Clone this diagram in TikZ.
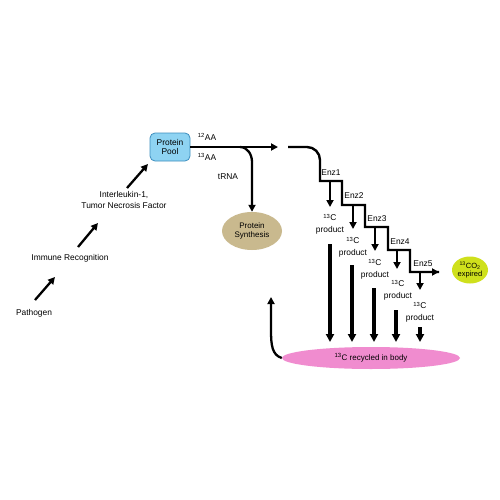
\documentclass[tikz,border=0pt]{standalone}
\usepackage{fontspec}
\setmainfont{Liberation Sans}
\usetikzlibrary{arrows.meta,shapes.geometric}
\definecolor{poolblue}{HTML}{8ED3F2}
\definecolor{pooledge}{HTML}{3E8EBE}
\definecolor{tan}{HTML}{C9B98E}
\definecolor{pinkish}{HTML}{F08CCF}
\definecolor{lime}{HTML}{CFE01C}
\tikzset{
  lbl/.style={font=\fontsize{8.4}{9.5}\selectfont, inner sep=0.5pt, align=center},
  two/.style={font=\fontsize{8.4}{11.5}\selectfont},
  arr/.style={line width=2.3pt, -{Triangle[length=7pt,width=7pt]}},
  bar/.style={line width=3.2pt, -{Triangle[length=8pt,width=8pt]}},
  stairline/.style={line width=2.4pt},
  blob/.style={ellipse, inner sep=0pt, font=\fontsize{8}{9.5}\selectfont, align=center}
}
\begin{document}
\begin{tikzpicture}[x=1pt,y=-1pt]
\useasboundingbox[fill=white] (0,0) rectangle (500,500);
% left chain
\node[lbl] (path) at (34,313) {Pathogen};
\node[lbl] (immune) at (70,258) {Immune Recognition};
\node[lbl, two] (il) at (124,200) {Interleukin-1,\\Tumor Necrosis Factor};
\coordinate (a1s) at (35,300); \coordinate (a1e) at (55,277);
\coordinate (a2s) at (78,247); \coordinate (a2e) at (98,223);
\coordinate (a3s) at (127,188); \coordinate (a3e) at (148,164);
\draw[arr] (a1s) -- (a1e);
\draw[arr] (a2s) -- (a2e);
\draw[arr] (a3s) -- (a3e);
% protein pool
\node[draw=pooledge, fill=poolblue, rounded corners=5pt, minimum width=40pt, minimum height=28pt, line width=0.8pt, lbl, inner sep=0pt] (pool) at (170,147) {Protein\\Pool};
\node[lbl] (aa12) at (207,137) {\textsuperscript{12}AA};
\node[lbl] (aa13) at (207,157) {\textsuperscript{13}AA};
\coordinate (mainend) at (278,147);
\draw[arr] (pool.east) -- (mainend);
% tRNA branch
\node[blob, fill=tan, minimum width=60pt, minimum height=38pt] (synth) at (252,231) {Protein\\Synthesis};
\node[lbl] (trna) at (228,177) {tRNA};
\coordinate (brA) at (240,147);
\coordinate (brB) at (252,162);
\draw[arr] (brA) to[out=0,in=90] (brB) -- (synth.north);
% staircase
\coordinate (s0) at (288,147);
\coordinate (s1) at (307,147);
\coordinate (s2) at (320,160);
\coordinate (c1) at (320,181); \coordinate (c2) at (342,181);
\coordinate (c3) at (342,205); \coordinate (c4) at (365,205);
\coordinate (c5) at (365,227); \coordinate (c6) at (388,227);
\coordinate (c7) at (388,250); \coordinate (c8) at (410,250);
\coordinate (c9) at (410,272);
\node[blob, fill=lime, minimum width=36pt, minimum height=27pt, font=\fontsize{7.5}{8.5}\selectfont] (co2) at (470,270) {\textsuperscript{13}CO\textsubscript{2}\\expired};
\coordinate (c10) at (439,272);
\draw[stairline] (s0) -- (s1) to[out=0,in=90] (s2) -- (c1) -- (c2) -- (c3) -- (c4) -- (c5) -- (c6) -- (c7) -- (c8) -- (c9) -- (c10);
\draw[arr] (c9) -- (c10);
% enzyme labels
\node[lbl] (e1) at (331,173) {Enz1};
\node[lbl] (e2) at (354,196) {Enz2};
\node[lbl] (e3) at (377,219) {Enz3};
\node[lbl] (e4) at (400,242) {Enz4};
\node[lbl] (e5) at (423,264) {Enz5};
% products
\node[lbl, two] (p1) at (330,224) {\textsuperscript{13}C\\product};
\node[lbl, two] (p2) at (353,247) {\textsuperscript{13}C\\product};
\node[lbl, two] (p3) at (375,269) {\textsuperscript{13}C\\product};
\node[lbl, two] (p4) at (398,290) {\textsuperscript{13}C\\product};
\node[lbl, two] (p5) at (420,312) {\textsuperscript{13}C\\product};
\coordinate (d1) at (330,181); \coordinate (d1e) at (330,207);
\coordinate (d2) at (353,205); \coordinate (d2e) at (353,229);
\coordinate (d3) at (375,227); \coordinate (d3e) at (375,251);
\coordinate (d4) at (397,250); \coordinate (d4e) at (397,269);
\coordinate (d5) at (420,272); \coordinate (d5e) at (420,290);
\draw[arr] (d1) -- (d1e);
\draw[arr] (d2) -- (d2e);
\draw[arr] (d3) -- (d3e);
\draw[arr] (d4) -- (d4e);
\draw[arr] (d5) -- (d5e);
% recycled pool
\node[blob, fill=pinkish, minimum width=178pt, minimum height=22pt] (recyc) at (371,358) {\textsuperscript{13}C recycled in body};
\coordinate (b1) at (330,244); \coordinate (b1e) at (330,342);
\coordinate (b2) at (352,265); \coordinate (b2e) at (352,342);
\coordinate (b3) at (374,288); \coordinate (b3e) at (374,342);
\coordinate (b4) at (396,310); \coordinate (b4e) at (396,342);
\coordinate (b5) at (420,327); \coordinate (b5e) at (420,342);
\draw[bar] (b1) -- (b1e);
\draw[bar] (b2) -- (b2e);
\draw[bar] (b3) -- (b3e);
\draw[bar] (b4) -- (b4e);
\draw[bar] (b5) -- (b5e);
% return arrow
\coordinate (rt) at (271,297);
\draw[arr] (recyc.west) .. controls (272,355) and (271,345) .. (271,330) -- (rt);
\end{tikzpicture}
\end{document}
